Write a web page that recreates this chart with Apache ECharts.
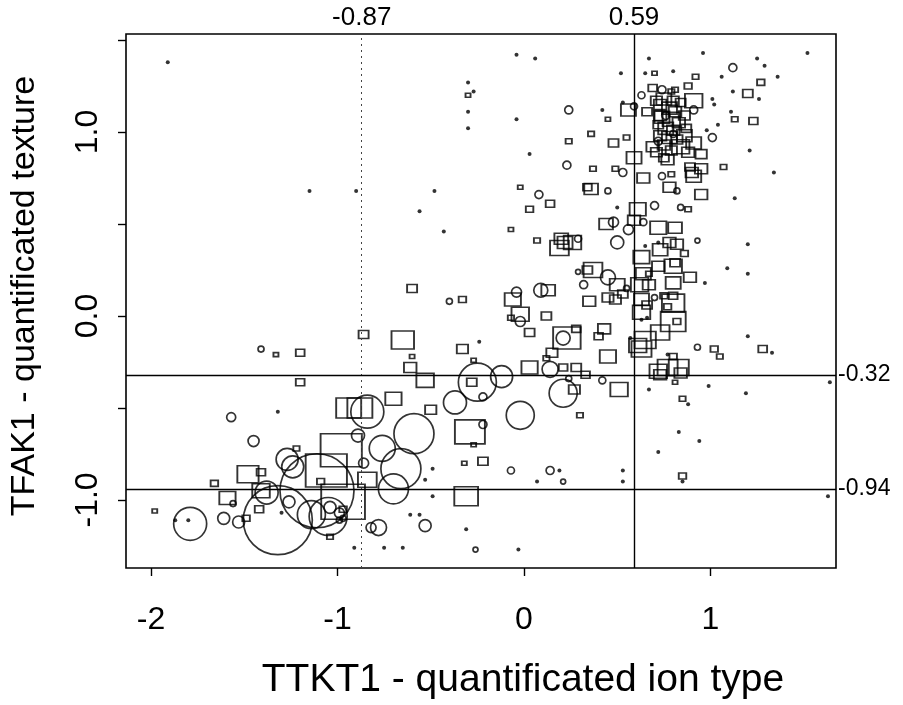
<!DOCTYPE html>
<html><head><meta charset="utf-8">
<script src="https://cdn.jsdelivr.net/npm/echarts@6/dist/echarts.min.js"></script>
<style>html,body{margin:0;padding:0;background:#fff}#c{width:903px;height:705px}</style>
</head><body><div id="c"></div>
<script>
// circles: x, y, relative size
const circleX=[-1.41,-1.57,-1.45,-0.84,-0.89,-0.86,-1.27,-1.24,-1.11,-1.32,-1.38,-1.56,-1.26,-1.61,-1.53,-1.79,-1.14,-1.05,-1.04,-0.99,-0.97,-0.99,-0.82,-0.40,-0.04,0.09,0.32,-0.02,0.21,-0.25,-0.12,-0.22,0.14,0.24,0.21,0.42,-0.37,-0.76,-0.02,-0.22,-0.59,-0.66,-0.70,-0.07,0.14,0.21,-0.78,-0.53,-0.26,0.24,0.23,0.08,0.29,0.29,1.12,0.63,0.91,0.59,1.01,0.53,0.45,0.70,0.48,0.64,0.56,0.50,0.93,0.45,0.74,0.82,0.84,0.74,0.76,0.80,0.72,0.55,0.70,0.93];
const circleY=[-0.18,-0.55,-0.68,-0.52,-0.65,-0.80,-0.78,-0.82,-0.95,-1.11,-0.96,-1.02,-1.01,-1.10,-1.12,-1.13,-1.08,-1.09,-1.04,-1.07,-1.10,-1.11,-1.15,0.08,0.13,0.14,0.17,-0.03,-0.12,-0.36,-0.33,-0.44,-0.29,-0.34,-0.42,-0.35,-0.47,-0.72,-0.54,-0.59,-0.64,-0.83,-0.94,-0.84,-0.84,-0.90,-1.15,-1.14,-1.27,1.12,0.82,0.66,0.42,0.24,1.35,1.20,1.12,1.14,0.97,0.78,0.68,0.60,0.51,0.51,0.47,0.40,0.41,0.21,0.76,0.68,0.59,1.23,1.09,0.99,0.95,0.15,0.10,-0.17];
const circleSize=[6,9,11,33,13,10,22,22,74,69,23,6,12,12,12,33,28,38,12,10,6,6,10,6,10,14,8,10,14,38,22,8,16,6,28,7,23,26,28,8,40,40,30,7,8,5,16,12,5,8,8,8,7,5,8,7,8,7,8,8,6,8,10,7,10,13,5,15,7,6,6,8,8,7,8,6,6,6];

// squares: x, y, relative size
const squareX=[-0.86,-1.33,-1.20,-1.20,-0.94,-0.88,-0.98,-1.22,-1.48,-1.41,-1.66,-1.06,-1.41,-1.59,-1.09,-1.49,-1.42,-0.97,-0.84,-0.97,-1.04,-1.98,-0.60,-0.33,-0.06,0.13,0.35,0.45,0.49,-0.02,-0.07,0.12,-0.65,0.03,0.23,0.28,0.43,0.40,-0.33,-0.60,0.15,0.12,0.45,-0.61,-0.27,-0.28,0.03,0.21,0.28,0.33,0.27,0.51,-0.53,-0.70,-0.50,0.30,-0.29,-0.27,-0.32,-0.22,-0.31,-0.30,0.24,-0.02,0.14,0.03,-0.07,0.07,0.20,0.19,0.26,0.34,0.34,0.70,0.92,1.27,0.88,1.20,0.91,0.45,0.36,0.48,0.55,0.56,1.13,1.23,0.95,0.95,0.91,0.95,0.37,0.49,0.36,0.59,0.64,0.61,0.44,0.59,0.72,0.81,0.78,0.86,0.63,0.64,0.80,0.37,0.89,0.79,0.78,0.90,1.07,0.88,0.69,0.79,0.81,0.66,0.69,0.75,0.84,0.89,0.91,0.73,0.78,0.81,0.74,0.79,0.83,0.76,0.80,0.73,0.78,0.82,0.75,0.72,0.86,0.87,0.71,0.84,0.79,0.22,0.62,0.67,0.81,0.80,0.72,0.50,0.53,0.67,0.80,0.77,0.80,0.82,0.63,0.66,0.75,0.73,0.65,0.80,1.02,1.05,1.28,0.72,0.77,0.83,0.80,0.81,0.73,0.84,0.85,0.85,0.75,0.86,0.77,0.71,0.88,0.73,0.80,0.63,0.61,0.63,0.73,0.82];
const squareY=[-0.10,-0.21,-0.20,-0.36,-0.50,-0.50,-0.73,-0.72,-0.86,-0.85,-0.91,-0.84,-0.95,-0.99,-0.90,-1.10,-1.05,-1.01,-0.89,-1.05,-1.20,-1.06,0.15,0.09,0.09,0.14,0.08,0.10,0.09,0.01,-0.01,0.00,-0.13,-0.09,-0.12,-0.07,-0.07,-0.11,-0.18,-0.22,-0.20,-0.23,-0.22,-0.28,-0.24,-0.36,-0.28,-0.28,-0.28,-0.32,-0.40,-0.40,-0.35,-0.45,-0.51,-0.54,-0.63,-0.70,-0.80,-0.79,-0.98,1.20,0.95,0.70,0.61,0.58,0.47,0.41,0.42,0.37,0.40,0.70,0.25,1.32,1.30,1.27,1.25,1.21,1.17,1.07,0.99,0.94,0.97,1.12,1.07,1.06,0.88,0.80,0.76,0.66,0.80,0.80,0.69,0.86,0.75,0.58,0.50,0.52,0.48,0.48,0.40,0.34,0.32,0.23,0.27,0.25,0.21,0.77,0.70,0.78,0.81,0.58,1.24,1.22,1.23,1.11,0.92,0.86,0.92,0.81,0.94,1.15,1.13,1.11,1.08,1.07,1.05,1.02,1.01,0.98,0.97,0.96,0.93,1.04,1.09,1.02,1.17,1.16,0.90,0.40,0.17,0.23,0.29,0.18,0.27,0.17,0.12,0.17,0.07,0.05,-0.03,-0.03,0.02,0.06,0.11,-0.09,-0.13,0.11,-0.18,-0.22,-0.18,-0.30,-0.28,-0.28,-0.22,-0.36,-0.32,-0.31,-0.45,-0.87,1.18,0.98,0.85,0.89,0.89,1.09,1.17,-0.18,-0.16,0.09,0.36,0.39];
const squareSize=[8,4,7,7,20,20,33,5,17,7,6,33,14,13,6,6,7,35,15,6,5,4,8,6,13,11,10,9,9,14,5,8,18,8,22,7,10,7,9,4,9,5,13,10,4,8,13,7,8,7,9,14,14,13,9,5,24,4,4,8,19,4,5,4,7,6,4,5,11,15,14,7,8,4,5,6,6,8,14,4,5,8,5,12,5,7,9,10,12,10,5,5,11,12,10,13,11,10,13,11,10,6,13,12,14,15,10,5,10,10,5,5,7,5,5,8,10,8,14,8,12,10,12,10,12,14,10,12,10,10,12,9,10,8,9,8,9,8,9,12,14,5,8,12,10,12,8,10,18,6,20,6,14,8,6,15,17,7,6,5,7,14,16,16,6,4,10,10,5,6,12,12,10,9,10,10,9,16,14,12,12,10];

// tiny filled points
const dotX=[-1.32,-1.30,-0.91,-1.87,-1.80,-0.24,0.57,-0.49,-0.53,0.19,0.07,0.53,0.53,-0.49,-0.61,-0.56,-0.31,-0.75,-0.65,-0.03,-1.91,-1.15,-0.90,-0.48,-0.56,-0.43,-0.04,0.06,-0.30,-0.27,-0.30,-0.30,-0.04,0.03,0.67,0.96,1.25,1.52,0.52,0.65,0.80,1.29,1.36,1.06,1.12,1.26,0.42,0.53,1.01,1.02,1.11,1.04,0.98,1.21,1.34,1.13,0.50,0.65,0.72,1.09,1.20,1.20,0.97,0.63,0.66,1.20,1.33,0.77,0.67,0.99,1.19,0.88,1.64,0.83,0.94,0.72,0.85,1.63];
const dotY=[-0.52,-1.07,-1.26,-1.11,-1.11,-0.14,-0.12,-0.83,-0.89,-0.84,-0.90,-0.84,-0.90,-0.98,-1.08,-1.08,-1.16,-1.26,-1.26,-1.27,1.38,0.68,0.68,0.68,0.57,0.46,1.42,1.40,1.27,1.22,1.11,1.02,1.07,0.88,1.40,1.43,1.40,1.43,1.32,1.32,1.33,1.36,1.30,1.30,1.22,1.18,1.12,1.16,1.18,1.15,1.11,1.04,1.01,0.90,0.78,0.64,0.59,0.38,0.40,0.26,0.39,0.23,0.18,-0.02,-0.01,-0.11,-0.20,-0.21,-0.40,-0.38,-0.42,-0.48,-0.36,-0.63,-0.68,-0.74,-0.90,-0.98];

// reference cut values
const cutX=[-0.87,0.59];
const cutY=[-0.32,-0.94];
const xTicks=[-2,-1,0,1];
const yTicks=[-1,-0.5,0,0.5,1,1.5];
const yLabels=[-1,0,1];

const FONT='Liberation Sans';
const circles=circleX.map((x,i)=>[x,circleY[i],circleSize[i]]);
const squares=squareX.map((x,i)=>[x,squareY[i],squareSize[i]]);
const dots=dotX.map((x,i)=>[x,dotY[i]]);

const chart=echarts.init(document.getElementById('c'),null,{renderer:'canvas'});
const openStyle={color:'rgba(0,0,0,0)',borderColor:'#000',borderWidth:1.7};
chart.setOption({
  animation:false,
  backgroundColor:'#fff',
  grid:{left:126,right:67,top:34,bottom:137,show:true,borderColor:'#000',borderWidth:1.6,backgroundColor:'transparent'},
  xAxis:{type:'value',min:-2.134,max:1.673,
    name:'TTKT1 - quantificated ion type',nameLocation:'middle',nameGap:93,
    nameTextStyle:{fontFamily:FONT,fontSize:39,color:'#000',padding:[0,0,0,84]},
    axisLine:{show:false,onZero:false},splitLine:{show:false},
    axisTick:{show:true,inside:false,length:8,customValues:xTicks,lineStyle:{color:'#000',width:1.4}},
    axisLabel:{show:true,margin:36,customValues:xTicks,fontFamily:FONT,fontSize:32,color:'#000',formatter:v=>String(v)}
  },
  yAxis:{type:'value',min:-1.37,max:1.533,
    name:'TFAK1 - quantificated texture',nameLocation:'middle',nameGap:84,nameRotate:90,
    nameTextStyle:{fontFamily:FONT,fontSize:34,color:'#000',padding:[0,0,0,10]},
    axisLine:{show:false,onZero:false},splitLine:{show:false},
    axisTick:{show:true,inside:false,length:8,customValues:yTicks,lineStyle:{color:'#000',width:1.4}},
    axisLabel:{show:true,margin:22,rotate:90,customValues:yLabels,fontFamily:FONT,fontSize:32,color:'#000',formatter:v=>v.toFixed(1)}
  },
  series:[
    {type:'scatter',name:'circles',data:circles,symbol:'circle',symbolSize:d=>d[2],itemStyle:openStyle,silent:true,z:2},
    {type:'scatter',name:'squares',data:squares,symbol:'rect',symbolSize:d=>[d[2]*1.25,d[2]],itemStyle:openStyle,silent:true,z:2},
    {type:'scatter',name:'dots',data:dots,symbol:'circle',symbolSize:4,itemStyle:{color:'#000'},silent:true,z:3,
      markLine:{silent:true,symbol:['none','none'],animation:false,
        label:{show:true,position:'end',fontFamily:FONT,fontSize:26,color:'#000',distance:3},
        data:[
          {xAxis:cutX[0],lineStyle:{type:[2,4],color:'#444',width:1},label:{formatter:String(cutX[0])}},
          {xAxis:cutX[1],lineStyle:{type:'solid',color:'#000',width:1.4},label:{formatter:String(cutX[1])}},
          {yAxis:cutY[0],lineStyle:{type:'solid',color:'#000',width:1.4},label:{formatter:String(cutY[0]),distance:2,fontSize:23}},
          {yAxis:cutY[1],lineStyle:{type:'solid',color:'#000',width:1.4},label:{formatter:String(cutY[1]),distance:2,fontSize:23}}
        ]}
    }
  ]
});
</script></body></html>
